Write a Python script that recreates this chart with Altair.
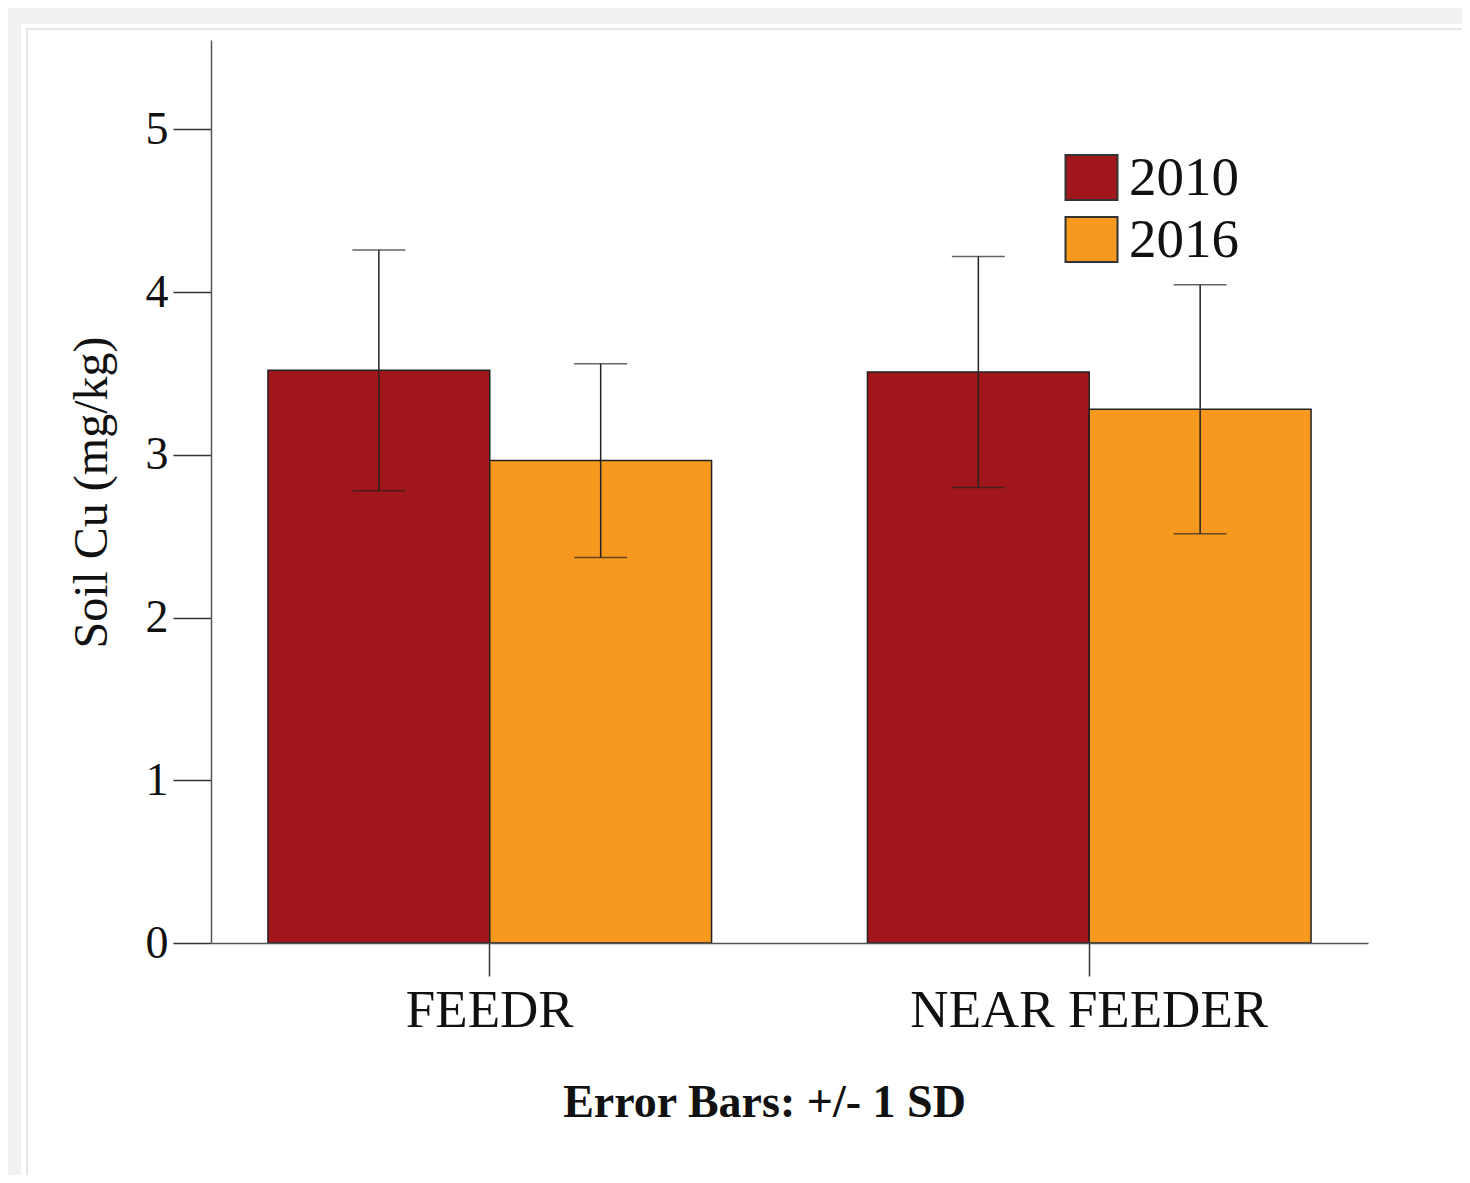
import altair as alt
import pandas as pd

sites = ["FEEDR", "FEEDR", "NEAR FEEDER", "NEAR FEEDER"]
years = ["2010", "2016", "2010", "2016"]
means = [3.52, 2.965, 3.51, 3.28]
sds = [0.74, 0.595, 0.71, 0.765]

site_order = ["FEEDR", "NEAR FEEDER"]
year_order = ["2010", "2016"]
colors = ["#a1161a", "#f7991f"]

df = pd.DataFrame({"site": sites, "year": years, "mean": means, "sd": sds})
df["lo"] = df["mean"] - df["sd"]
df["hi"] = df["mean"] + df["sd"]

FONT = "Liberation Serif"
W, H = 1157, 903

xenc = alt.X(
    "site:N",
    sort=site_order,
    scale=alt.Scale(paddingInner=0.26, paddingOuter=0.095),
    axis=alt.Axis(
        title="Error Bars: +/- 1 SD", zindex=1,
        titleFont=FONT, titleFontSize=46, titleFontWeight="bold", titleColor="#111",
        titleX=553, titleY=173, titleBaseline="alphabetic", titleAnchor="start", titleAlign="center",
        labelFont=FONT, labelFontSize=53, labelColor="#111", labelAngle=0, labelLimit=0,
        labelPadding=8, labelBaseline="top",
        tickSize=33, tickColor="#333", tickWidth=1.5,
        domainColor="#555", domainWidth=1.5,
    ),
)
xoff = alt.XOffset("year:N", sort=year_order, scale=alt.Scale(paddingInner=0, paddingOuter=0))
yscale = alt.Scale(domain=[0, 5.55], nice=False)

bars = alt.Chart(df).mark_bar(stroke="#222", strokeWidth=1.5).encode(
    x=xenc,
    xOffset=xoff,
    y=alt.Y(
        "mean:Q",
        scale=yscale,
        axis=alt.Axis(
            title="Soil Cu (mg/kg)", values=[0, 1, 2, 3, 4, 5], format="d", grid=False, zindex=1,
            titleFont=FONT, titleFontSize=48, titleFontWeight="normal", titleColor="#111",
            titleX=-119, titleY=452, titleAngle=-90, titleAlign="center", titleBaseline="middle",
            labelFont=FONT, labelFontSize=46, labelColor="#111", labelPadding=5,
            tickSize=38, tickColor="#333", tickWidth=1.5,
            domainColor="#555", domainWidth=1.5,
        ),
    ),
    color=alt.Color(
        "year:N",
        sort=year_order,
        scale=alt.Scale(domain=year_order, range=colors),
        legend=alt.Legend(
            title=None, orient="none", legendX=853, legendY=110,
            symbolType="M-1,-0.865L1,-0.865L1,0.865L-1,0.865Z",
            symbolSize=2704, symbolStrokeColor="#333", symbolStrokeWidth=2,
            symbolOpacity=1,
            labelFont=FONT, labelFontSize=55, labelColor="#111", labelOffset=10,
            rowPadding=6, padding=0,
        ),
    ),
)

rules = alt.Chart(df).mark_rule(color="#222", strokeWidth=1.5).encode(
    x=alt.X("site:N", sort=site_order),
    xOffset=alt.XOffset("year:N", sort=year_order),
    y=alt.Y("lo:Q", scale=yscale),
    y2="hi:Q",
)
cap_lo = alt.Chart(df).mark_tick(color="#222", size=53, thickness=1.5).encode(
    x=alt.X("site:N", sort=site_order),
    xOffset=alt.XOffset("year:N", sort=year_order),
    y=alt.Y("lo:Q", scale=yscale),
)
cap_hi = alt.Chart(df).mark_tick(color="#222", size=53, thickness=1.5).encode(
    x=alt.X("site:N", sort=site_order),
    xOffset=alt.XOffset("year:N", sort=year_order),
    y=alt.Y("hi:Q", scale=yscale),
)

# decorative page panel (white card with a faint inner border)
panel_df = pd.DataFrame({"k": [0]})
panel = alt.Chart(panel_df).mark_rect(fill="white").encode(
    x=alt.value(-190), x2=alt.value(1270), y=alt.value(-16), y2=alt.value(1150)
)
panel_border = alt.Chart(panel_df).mark_rect(fill="white", stroke="#e6e6e6", strokeWidth=2).encode(
    x=alt.value(-184), x2=alt.value(1275), y=alt.value(-11), y2=alt.value(1160)
)

chart = alt.layer(panel, panel_border, bars, rules, cap_lo, cap_hi).properties(
    width=W, height=H,
    autosize=alt.AutoSizeParams(type="none"),
    padding={"left": 203, "top": 32, "right": 94, "bottom": 232},
    background="#f1f1f1",
).configure_view(stroke=None)

chart.save("out.html", embed_options={"renderer": "svg", "actions": False})
